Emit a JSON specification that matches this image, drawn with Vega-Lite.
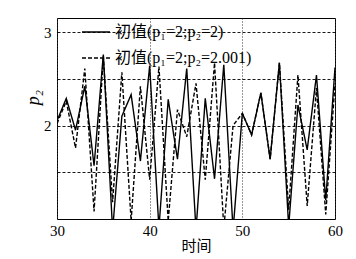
{
  "$schema": "https://vega.github.io/schema/vega-lite/v6.json",
  "width": 278,
  "height": 201,
  "autosize": {"type": "none"},
  "padding": {"left": 57, "top": 18, "right": 21, "bottom": 40},
  "background": "white",
  "config": {
    "view": {"stroke": "#000", "strokeWidth": 1},
    "axis": {"domain": false, "ticks": false, "labelFont": "Liberation Serif", "labelFontSize": 15, "labelColor": "#000", "titleColor": "#000"}
  },
  "datasets": {
    "raw": [
      {"t": 30, "a": 2.05, "b": 2.02},
      {"t": 31, "a": 2.29, "b": 2.26},
      {"t": 32, "a": 1.95, "b": 1.76},
      {"t": 33, "a": 2.42, "b": 2.61},
      {"t": 34, "a": 1.57, "b": 1.08},
      {"t": 35, "a": 2.76, "b": 2.74},
      {"t": 36, "a": 0.88, "b": 1.18},
      {"t": 37, "a": 2.1, "b": 2.57},
      {"t": 38, "a": 2.33, "b": 0.98},
      {"t": 39, "a": 1.62, "b": 2.42},
      {"t": 40, "a": 2.64, "b": 1.42},
      {"t": 41, "a": 0.9, "b": 2.63},
      {"t": 42, "a": 2.28, "b": 0.98},
      {"t": 43, "a": 1.64, "b": 2.17},
      {"t": 44, "a": 2.61, "b": 1.88},
      {"t": 45, "a": 0.88, "b": 2.45},
      {"t": 46, "a": 2.29, "b": 1.42},
      {"t": 47, "a": 1.43, "b": 2.67},
      {"t": 48, "a": 2.65, "b": 0.9},
      {"t": 49, "a": 0.88, "b": 2.0},
      {"t": 50, "a": 2.13, "b": 2.13},
      {"t": 51, "a": 1.9, "b": 1.9},
      {"t": 52, "a": 2.35, "b": 2.35},
      {"t": 53, "a": 1.64, "b": 1.64},
      {"t": 54, "a": 2.67, "b": 2.67},
      {"t": 55, "a": 0.92, "b": 1.1},
      {"t": 56, "a": 2.22, "b": 2.54},
      {"t": 57, "a": 1.74, "b": 1.14},
      {"t": 58, "a": 2.54, "b": 2.4},
      {"t": 59, "a": 1.2, "b": 1.05},
      {"t": 60, "a": 2.62, "b": 2.45}
    ]
  },
  "data": {"name": "raw"},
  "transform": [
    {"fold": ["a", "b"], "as": ["k", "p2"]},
    {"lookup": "k", "from": {"data": {"values": [{"k": "a", "series": "初值(p₁=2;p₂=2)"}, {"k": "b", "series": "初值(p₁=2;p₂=2.001)"}]}, "key": "k", "fields": ["series"]}}
  ],
  "mark": {"type": "line", "clip": true, "color": "#000", "strokeWidth": 1.4},
  "encoding": {
    "x": {
      "field": "t", "type": "quantitative",
      "scale": {"domain": [30, 60], "nice": false},
      "axis": {"values": [30, 40, 50, 60], "title": "时间", "titleFont": "Noto Sans CJK SC", "titleFontSize": 15, "titleFontWeight": "normal", "labelPadding": 4, "titlePadding": 0, "gridDash": [1, 2], "gridColor": "#333", "gridOpacity": 1, "labelFlush": false}
    },
    "y": {
      "field": "p2", "type": "quantitative",
      "scale": {"domain": [1, 3.15], "nice": false, "zero": false},
      "axis": {"values": [1.5, 2, 2.5, 3], "labelExpr": "datum.value == 2 ? '2' : datum.value == 3 ? '3' : ''", "labelPadding": 6, "title": "p₂", "titleFont": "Liberation Serif", "titleFontStyle": "italic", "titleFontSize": 18, "titleFontWeight": "normal", "titleX": -15, "titleY": 79, "gridDash": [3, 2], "gridColor": "#000", "gridOpacity": 0.9}
    },
    "strokeDash": {
      "field": "series", "type": "nominal",
      "scale": {"domain": ["初值(p₁=2;p₂=2)", "初值(p₁=2;p₂=2.001)"], "range": [[1, 0], [4, 2]]},
      "legend": {"orient": "none", "legendX": 24, "legendY": -1, "title": null, "symbolType": "stroke", "symbolSize": 784, "symbolStrokeWidth": 1.4, "symbolStrokeColor": "#000", "labelFont": "Liberation Serif, Noto Sans CJK SC", "labelFontSize": 16, "labelColor": "#000", "labelOffset": 4, "rowPadding": 3, "padding": 0, "labelLimit": 300}
    }
  }
}
